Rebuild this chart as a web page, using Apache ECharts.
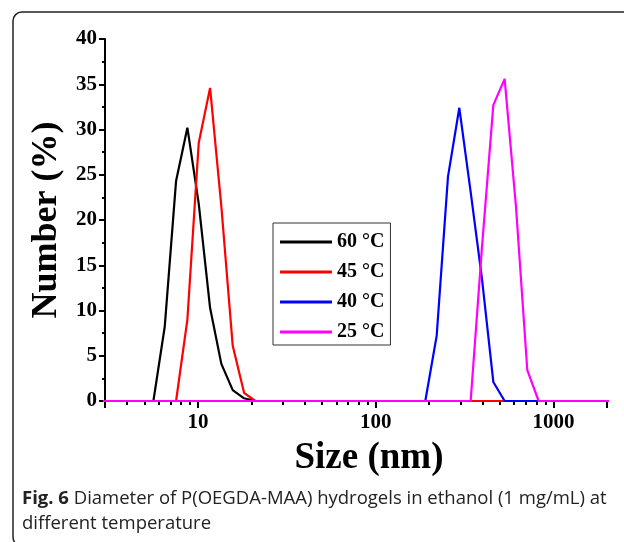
<!DOCTYPE html>
<html>
<head>
<meta charset="utf-8">
<script src="https://cdn.jsdelivr.net/npm/echarts@6/dist/echarts.min.js"></script>
<style>
html,body{margin:0;padding:0;background:#fff;}
#c{width:624px;height:542px;}
</style>
</head>
<body>
<div id="c"></div>
<script>
// Size bins (nm)
const sizes = [2.696,3.122,3.615,4.187,4.849,5.615,6.503,7.531,8.721,10.1,11.7,13.54,15.69,18.17,21.04,24.36,28.21,32.67,37.84,43.82,50.75,58.77,68.06,78.82,91.28,105.7,122.4,141.8,164.2,190.1,220.2,255.0,295.3,342.0,396.1,458.7,531.2,615.1,712.4,825.0,955.4,1106,1281,1484,1718,1990,2305];
// Number (%) per temperature
const v60 = [0,0,0,0,0,0,8.2,24.3,30.2,21.8,10.3,4.1,1.2,0.3,0,0,0,0,0,0,0,0,0,0,0,0,0,0,0,0,0,0,0,0,0,0,0,0,0,0,0,0,0,0,0,0,0];
const v45 = [0,0,0,0,0,0,0,0,9.0,28.5,34.6,21.5,6.1,0.9,0,0,0,0,0,0,0,0,0,0,0,0,0,0,0,0,0,0,0,0,0,0,0,0,0,0,0,0,0,0,0,0,0];
const v40 = [0,0,0,0,0,0,0,0,0,0,0,0,0,0,0,0,0,0,0,0,0,0,0,0,0,0,0,0,0,0,7.2,24.8,32.4,23.1,13.5,2.1,0,0,0,0,0,0,0,0,0,0,0];
const v25 = [0,0,0,0,0,0,0,0,0,0,0,0,0,0,0,0,0,0,0,0,0,0,0,0,0,0,0,0,0,0,0,0,0,0,17.0,32.7,35.6,21.5,3.4,0,0,0,0,0,0,0,0];
const seriesNames = ['60 °C','45 °C','40 °C','25 °C'];
const seriesColors = ['#000000','#ff0000','#0000ff','#ff00ff'];
const xLabels = [10,100,1000];
const xMajorTicks = [3,10,100,1000,2000];
const xMinorTicks = [4,5,6,7,8,9,20,30,40,50,60,70,80,90,200,300,400,500,600,700,800,900];

const serif = 'Liberation Serif, Times New Roman, serif';
const chart = echarts.init(document.getElementById('c'), null, {renderer:'canvas'});
const values = [v60,v45,v40,v25];

const option = {
  animation:false,
  backgroundColor:'#fff',
  grid:{left:105,right:17,top:39,bottom:141,containLabel:false},
  legend:{
    orient:'vertical', left:273, top:223,
    data:seriesNames,
    icon:'rect', itemWidth:52, itemHeight:3, itemGap:10,
    padding:[9,6,3,7],
    borderColor:'#333', borderWidth:1,
    textStyle:{fontFamily:serif, fontWeight:'bold', fontSize:20, color:'#000', lineHeight:20}
  },
  xAxis:[{
    type:'log', logBase:10, min:3, max:2000, position:'bottom',
    axisLine:{show:true, lineStyle:{color:'#000', width:2}},
    axisTick:{show:true, length:7, lineStyle:{color:'#000', width:2}, customValues:xMajorTicks},
    axisLabel:{customValues:xLabels, formatter:function(v){return String(Math.round(v));},
      fontFamily:serif, fontWeight:'bold', fontSize:21, color:'#000', margin:11},
    splitLine:{show:false},
    name:'Size (nm)', nameLocation:'middle', nameGap:39,
    nameTextStyle:{fontFamily:serif, fontWeight:'bold', fontSize:37, color:'#000', padding:[0,0,0,26]}
  },{
    type:'log', logBase:10, min:3, max:2000, position:'bottom',
    axisLine:{show:false},
    axisTick:{show:true, length:4, lineStyle:{color:'#000', width:2}, customValues:xMinorTicks},
    axisLabel:{show:false},
    splitLine:{show:false}
  }],
  yAxis:{
    type:'value', min:0, max:40, interval:5,
    axisLine:{show:true, lineStyle:{color:'#000', width:2}},
    axisTick:{show:true, length:6, lineStyle:{color:'#000', width:2}},
    minorTick:{show:true, splitNumber:2, length:3, lineStyle:{color:'#000', width:2}},
    axisLabel:{fontFamily:serif, fontWeight:'bold', fontSize:21, color:'#000', margin:8},
    splitLine:{show:false},
    name:'Number (%)', nameLocation:'middle', nameGap:36, nameRotate:90,
    nameTextStyle:{fontFamily:serif, fontWeight:'bold', fontSize:36, color:'#000'}
  },
  series: seriesNames.map((n,i)=>({
    name:n, type:'line', xAxisIndex:0,
    data: sizes.map((s,j)=>[s, values[i][j]]),
    showSymbol:false, symbol:'none',
    lineStyle:{color:seriesColors[i], width:2.2},
    itemStyle:{color:seriesColors[i]},
    clip:true
  })),
  graphic:[
    {type:'rect', shape:{x:13, y:12, width:700, height:534, r:9},
     style:{fill:'none', stroke:'#222', lineWidth:1.5}, silent:true},
    {type:'text', left:22, top:486,
     style:{
       text:'{b|Fig. 6} Diameter of P(OEGDA-MAA) hydrogels in ethanol (1 mg/mL) at\ndifferent temperature',
       font:'18.5px "Open Sans"', fill:'#222', lineHeight:25,
       rich:{b:{fontFamily:'Open Sans', fontWeight:'bold', fontSize:18.5, fill:'#222', lineHeight:25}}
     }}
  ]
};
chart.setOption(option);
</script>
</body>
</html>
